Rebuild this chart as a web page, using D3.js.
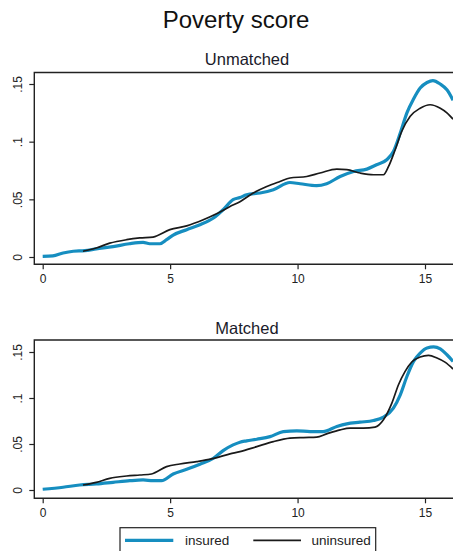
<!DOCTYPE html>
<html>
<head>
<meta charset="utf-8">
<script src="https://cdn.jsdelivr.net/npm/d3@7"></script>
<style>
  html, body { margin: 0; padding: 0; background: #fff; }
  svg { display: block; font-family: "Liberation Sans", Arial, sans-serif; }
</style>
</head>
<body>
<svg id="chart" width="453" height="551"></svg>
<script>
// Kernel density of poverty score, insured vs uninsured

const xTicks = [0, 5, 10, 15];
const yTicks = [0, 0.05, 0.1, 0.15];
const yTickLabels = ["0", ".05", ".1", ".15"];
const seriesNames = ["insured", "uninsured"];
const panelTitles = ["Unmatched", "Matched"];

// Unmatched sample
const unmatchedInsuredX = [0, 0.4, 0.8, 1.2, 1.65, 2.1, 2.76, 3.4, 3.94, 4.2, 4.6, 4.86, 5.12, 5.65, 6.17, 6.7, 7.08, 7.47, 7.74, 8.0, 8.53, 9.05, 9.7, 10.1, 10.75, 11.14, 11.67, 12.2, 12.72, 13.1, 13.5, 13.76, 14.03, 14.29, 14.55, 14.81, 15.08, 15.31, 15.6, 15.86, 16.1];
const unmatchedInsuredY = [0.0005, 0.001, 0.0035, 0.005, 0.0055, 0.007, 0.009, 0.0115, 0.0127, 0.0115, 0.0115, 0.015, 0.019, 0.0237, 0.028, 0.0338, 0.041, 0.0497, 0.0515, 0.054, 0.0555, 0.0583, 0.0646, 0.0635, 0.0618, 0.0635, 0.0698, 0.0742, 0.0762, 0.08, 0.0843, 0.0915, 0.1075, 0.125, 0.137, 0.1465, 0.1513, 0.153, 0.150, 0.145, 0.136];
const unmatchedUninsuredX = [1.58, 2.1, 2.63, 3.29, 3.81, 4.33, 4.99, 5.65, 6.3, 6.82, 7.35, 7.74, 8.26, 8.79, 9.31, 9.7, 10.36, 10.88, 11.54, 11.93, 12.45, 12.98, 13.37, 13.57, 13.83, 14.09, 14.42, 14.81, 15.2, 15.6, 15.86, 16.1];
const unmatchedUninsuredY = [0.005, 0.0078, 0.012, 0.015, 0.0165, 0.0173, 0.0237, 0.027, 0.0323, 0.0375, 0.0438, 0.048, 0.0555, 0.0612, 0.0655, 0.0685, 0.0698, 0.0728, 0.0762, 0.0757, 0.0728, 0.0713, 0.0713, 0.0785, 0.093, 0.109, 0.122, 0.129, 0.132, 0.129, 0.125, 0.1195];

// Matched sample
const matchedInsuredX = [0, 0.8, 1.45, 2.1, 2.76, 3.42, 3.94, 4.33, 4.66, 5.12, 5.65, 6.17, 6.7, 7.08, 7.47, 7.74, 8.0, 8.4, 8.92, 9.44, 9.97, 10.49, 11.0, 11.54, 11.93, 12.45, 12.98, 13.37, 13.76, 14.03, 14.29, 14.55, 14.81, 15.08, 15.34, 15.6, 15.86, 16.1];
const matchedInsuredY = [0.0008, 0.003, 0.0054, 0.0065, 0.0083, 0.0101, 0.0109, 0.0101, 0.0101, 0.0174, 0.0225, 0.028, 0.0345, 0.0428, 0.049, 0.052, 0.0534, 0.0552, 0.058, 0.0635, 0.0643, 0.0635, 0.0635, 0.069, 0.0719, 0.0737, 0.0755, 0.0792, 0.089, 0.1035, 0.1234, 0.1398, 0.1489, 0.1544, 0.1555, 0.1533, 0.147, 0.1398];
const matchedUninsuredX = [1.58, 2.1, 2.63, 3.29, 3.81, 4.27, 4.86, 5.38, 6.04, 6.63, 7.35, 7.74, 8.4, 9.05, 9.7, 10.23, 10.75, 11.14, 11.67, 12.06, 12.58, 13.04, 13.37, 13.7, 13.96, 14.22, 14.48, 14.81, 15.14, 15.47, 15.8, 16.1];
const matchedUninsuredY = [0.0054, 0.0083, 0.0127, 0.0152, 0.0163, 0.0174, 0.0254, 0.0283, 0.0309, 0.0338, 0.0392, 0.0417, 0.0472, 0.0526, 0.0563, 0.057, 0.0574, 0.061, 0.0654, 0.0672, 0.0672, 0.0683, 0.0763, 0.0944, 0.1144, 0.1289, 0.1391, 0.1446, 0.1463, 0.1435, 0.1387, 0.1315];

const BLUE = "#168ec0";
const INK = "#1a1a1a";

const svg = d3.select("#chart");

svg.append("text")
  .attr("x", 236).attr("y", 28)
  .attr("text-anchor", "middle")
  .attr("font-size", 24)
  .attr("fill", "#111")
  .text("Poverty score");

const zip = (xs, ys) => xs.map((x, i) => ({ x, y: ys[i] }));

const panels = [
  {
    title: panelTitles[0], titleY: 65,
    frame: { left: 34.3, right: 470, top: 72.5, bottom: 264.3 },
    yRange: [257, 84],
    insured: zip(unmatchedInsuredX, unmatchedInsuredY),
    uninsured: zip(unmatchedUninsuredX, unmatchedUninsuredY)
  },
  {
    title: panelTitles[1], titleY: 333.5,
    frame: { left: 34.3, right: 470, top: 340, bottom: 498.3 },
    yRange: [490, 352],
    insured: zip(matchedInsuredX, matchedInsuredY),
    uninsured: zip(matchedUninsuredX, matchedUninsuredY)
  }
];

const x = d3.scaleLinear().domain([0, 15]).range([42.7, 425]);

panels.forEach((p, i) => {
  const y = d3.scaleLinear().domain([0, 0.15]).range(p.yRange);
  const f = p.frame;
  const g = svg.append("g");

  g.append("text")
    .attr("x", 247).attr("y", p.titleY)
    .attr("text-anchor", "middle")
    .attr("font-size", 16.5)
    .attr("fill", "#1a1a2a")
    .text(p.title);

  const clipId = "clip" + i;
  svg.append("clipPath").attr("id", clipId)
    .append("rect")
    .attr("x", f.left).attr("y", f.top)
    .attr("width", f.right - f.left).attr("height", f.bottom - f.top);

  const line = d3.line()
    .x(d => x(d.x)).y(d => y(d.y))
    .curve(d3.curveMonotoneX);

  const plot = g.append("g").attr("clip-path", `url(#${clipId})`);
  plot.append("path").datum(p.insured)
    .attr("d", line)
    .attr("fill", "none")
    .attr("stroke", BLUE)
    .attr("stroke-width", 3.2)
    .attr("stroke-linejoin", "round");
  plot.append("path").datum(p.uninsured)
    .attr("d", line)
    .attr("fill", "none")
    .attr("stroke", INK)
    .attr("stroke-width", 1.7)
    .attr("stroke-linejoin", "round");

  // frame
  g.append("path")
    .attr("d", `M${f.right},${f.top}H${f.left}V${f.bottom}H${f.right}`)
    .attr("fill", "none")
    .attr("stroke", "#222")
    .attr("stroke-width", 1.4);

  // y axis
  const yAxis = d3.axisLeft(y)
    .tickValues(yTicks)
    .tickFormat((d, k) => yTickLabels[k])
    .tickSize(5)
    .tickPadding(6);
  const ya = g.append("g")
    .attr("transform", `translate(${f.left},0)`)
    .call(yAxis);
  ya.select(".domain").remove();
  ya.selectAll(".tick line").attr("stroke", "#222").attr("stroke-width", 1.2);
  ya.selectAll(".tick text")
    .attr("font-size", 12)
    .attr("font-family", "Liberation Sans, Arial, sans-serif")
    .attr("fill", "#222")
    .attr("x", null).attr("dy", null)
    .attr("text-anchor", "middle")
    .attr("dominant-baseline", "central")
    .attr("transform", "translate(-16,0) rotate(-90)");

  // x axis
  const xAxis = d3.axisBottom(x)
    .tickValues(xTicks)
    .tickFormat(d3.format("d"))
    .tickSize(5)
    .tickPadding(5);
  const xa = g.append("g")
    .attr("transform", `translate(0,${f.bottom})`)
    .call(xAxis);
  xa.select(".domain").remove();
  xa.selectAll(".tick line").attr("stroke", "#222").attr("stroke-width", 1.2);
  xa.selectAll(".tick text")
    .attr("font-size", 12)
    .attr("font-family", "Liberation Sans, Arial, sans-serif")
    .attr("fill", "#222");
});

// legend
const legend = svg.append("g");
legend.append("rect")
  .attr("x", 120).attr("y", 527.7)
  .attr("width", 255.7).attr("height", 30)
  .attr("fill", "#fff")
  .attr("stroke", "#222")
  .attr("stroke-width", 1.2);

const legendItems = [
  { name: seriesNames[0], color: BLUE, width: 3.2, x0: 125, x1: 173.3, tx: 185 },
  { name: seriesNames[1], color: INK, width: 1.7, x0: 253.3, x1: 301, tx: 311.5 }
];
legendItems.forEach(it => {
  legend.append("line")
    .attr("x1", it.x0).attr("x2", it.x1)
    .attr("y1", 540.3).attr("y2", 540.3)
    .attr("stroke", it.color)
    .attr("stroke-width", it.width);
  legend.append("text")
    .attr("x", it.tx).attr("y", 545)
    .attr("font-size", 13.5)
    .attr("fill", "#222")
    .text(it.name);
});
</script>
</body>
</html>
